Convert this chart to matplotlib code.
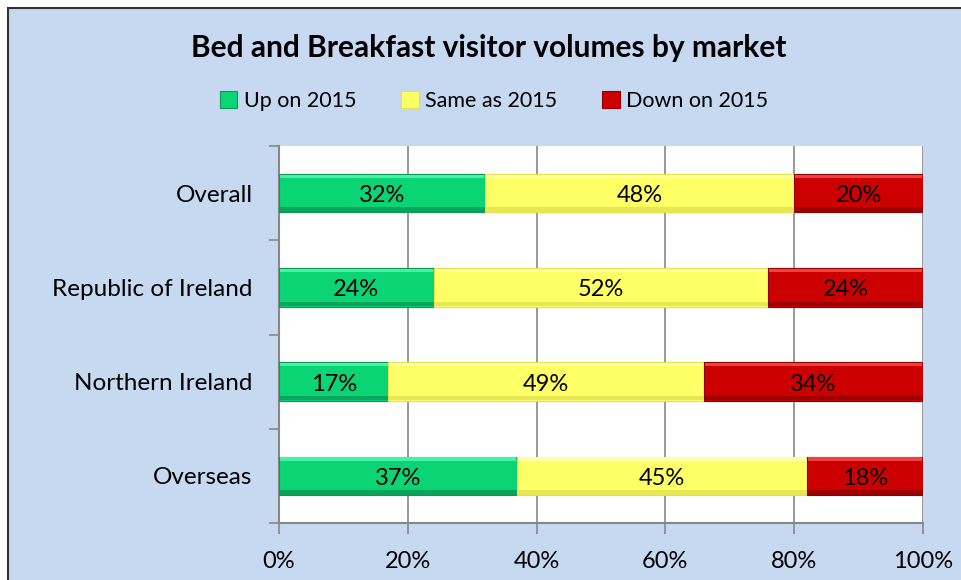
import matplotlib
matplotlib.use("Agg")
import matplotlib.pyplot as plt
from matplotlib.patches import Rectangle
from matplotlib.transforms import ScaledTranslation
import numpy as np

categories = ["Overall", "Republic of Ireland", "Northern Ireland", "Overseas"]
up = [32, 24, 17, 37]
same = [48, 52, 49, 45]
down = [20, 24, 34, 18]
series_names = ["Up on 2015", "Same as 2015", "Down on 2015"]
xtick_vals = [0, 20, 40, 60, 80, 100]

plt.rcParams['font.family'] = ['Lato', 'DejaVu Sans']

W, H = 961, 580
fig = plt.figure(figsize=(W/100, H/100), dpi=100)
bg = '#C6D9F0'
fig.patch.set_facecolor('white')
fig.patches.append(Rectangle((8/W, -0.05), 1.1, 1 - 8/H + 0.05, transform=fig.transFigure,
                             facecolor=bg, edgecolor='#333333', linewidth=1.5, zorder=-5))

ax = fig.add_axes([279/W, 1 - 523/H, 644/W, 377/H])
ax.set_facecolor('white')

down_shift = ScaledTranslation(0, -2.5/100, fig.dpi_scale_trans)

colors = ['#0BD474', '#FFFF66', '#CC0000']
highlights = ['#45F2A6', '#FFFFA8', '#F04040']
shades = ['#0A9A55', '#E2E24E', '#900000']
ypos = np.arange(len(categories))
h = 0.41
left = np.zeros(len(categories))
handles = []
for vals, c, hl, sh, name in zip([up, same, down], colors, highlights, shades, series_names):
    vals = np.array(vals, dtype=float)
    b = ax.barh(ypos, vals, left=left, height=h, color=c, edgecolor=sh, linewidth=0.8, label=name, zorder=3)
    handles.append(b)
    ax.barh(ypos - h/2 + 0.025, vals - 0.3, left=left + 0.15, height=0.035, color=hl, linewidth=0, zorder=3.5)
    ax.barh(ypos + h/2 - 0.03, vals, left=left, height=0.05, color=sh, linewidth=0, zorder=3.5, alpha=0.8)
    for y, l, v in zip(ypos, left, vals):
        ax.text(l + v/2, y, f"{int(v)}%", ha='center', va='center', fontsize=17, zorder=4,
                transform=ax.transData + down_shift)
    left = left + vals

ax.set_xlim(0, 100)
ax.set_ylim(3.5, -0.5)
ax.set_xticks(xtick_vals)
ax.set_xticklabels([f"{v}%" for v in xtick_vals], fontsize=17)
ax.xaxis.grid(True, color='#888888', linewidth=1.2, zorder=1)
ax.set_yticks(np.arange(-0.5, 4, 1))
ax.set_yticklabels([])
ax.set_yticks(ypos, minor=True)
ax.set_yticklabels(categories, minor=True, fontsize=17.5)
for lab in ax.get_yticklabels(minor=True):
    lab.set_transform(lab.get_transform() + down_shift)
ax.tick_params(axis='y', which='major', length=7, color='#888888', width=1.2)
ax.tick_params(axis='y', which='minor', length=0, pad=19)
ax.tick_params(axis='x', length=8, color='#888888', width=1.2, pad=12)
for s in ['top', 'right']:
    ax.spines[s].set_visible(False)
for s in ['left', 'bottom']:
    ax.spines[s].set_color('#888888')
    ax.spines[s].set_linewidth(1.5)

fig.text(489/W, 1 - 48/H, "Bed and Breakfast visitor volumes by market", ha='center', va='center',
         fontsize=21.5, fontweight='bold')
leg = fig.legend(handles=handles, loc='center', bbox_to_anchor=(494/W, 1 - 101/H), ncol=3, frameon=False,
                 fontsize=15.5, handlelength=0.8, handleheight=0.8, handletextpad=0.3, columnspacing=2.1)

fig.savefig('out.png', dpi=100, facecolor=fig.get_facecolor())
